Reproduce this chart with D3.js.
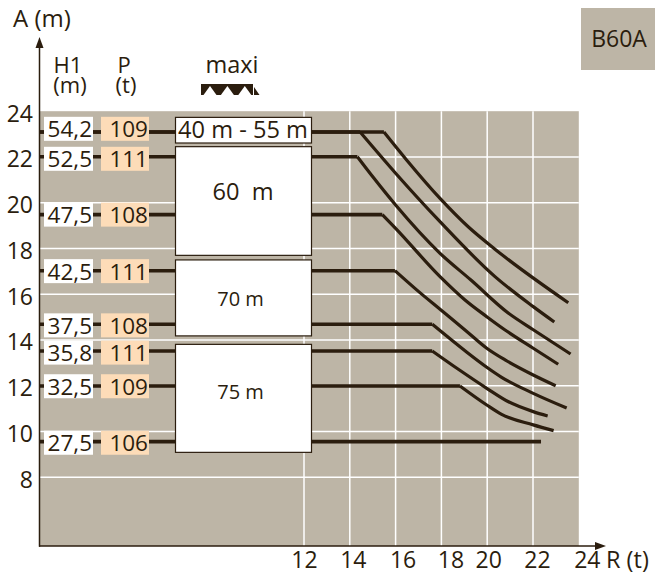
<!DOCTYPE html>
<html lang="en">
<head>
<meta charset="utf-8">
<script src="https://d3js.org/d3.v7.min.js"></script>
<style>
  body { margin: 0; background: #fff; }
  text { font-family: "Open Sans", sans-serif; fill: #2b1d0e; }
</style>
</head>
<body>
<div id="chart"></div>
<script>
// rows of the table on the left
const heights = ["54,2", "52,5", "47,5", "42,5", "37,5", "35,8", "32,5", "27,5"];
const loads = ["109", "111", "108", "111", "108", "111", "109", "106"];
const labelA = [23.23, 21.92, 19.48, 17.01, 14.64, 13.45, 11.98, 9.51];

// boom length blocks, in A (m)
const boomNames = ["40 m - 55 m", "60\u00a0 m", "70 m", "75 m"];
const boomTop = [23.73, 22.45, 17.5, 13.81];
const boomBottom = [22.61, 17.7, 14.18, 9.09];
const boomTextA = [22.83, 20.12, 15.5, 11.42];

// curves as [R, A], first point is the end of the flat part
const curve54a = [[15.49, 23.09], [16.48, 21.87], [17.94, 20.19], [19.17, 18.95], [20.34, 17.97], [23.54, 15.63]];
const curve54b = [[14.45, 23.09], [16.0, 21.29], [17.94, 19.17], [20.34, 16.77], [22.01, 15.46], [22.93, 14.79]];
const curve52 = [[14.33, 22.01], [15.03, 21.1], [16.0, 19.9], [17.94, 17.79], [19.29, 16.62], [20.93, 15.17], [22.01, 14.45], [23.64, 13.39]];
const curve47 = [[15.42, 19.48], [16.0, 18.88], [17.94, 16.77], [19.03, 15.75], [19.98, 15.02], [20.78, 14.44], [22.01, 13.64], [23.1, 12.94]];
const curve42 = [[15.97, 17.03], [16.92, 16.19], [17.98, 15.31], [19.03, 14.44], [19.98, 13.64], [20.78, 13.13], [22.01, 12.47], [22.99, 12.0]];
const curve37 = [[17.6, 14.69], [19.03, 13.53], [19.98, 12.81], [20.63, 12.37], [22.01, 11.67], [23.47, 11.03]];
const curve35 = [[17.6, 13.52], [18.74, 12.72], [19.98, 11.89], [20.93, 11.3], [22.01, 10.87], [22.64, 10.68]];
const curve32 = [[18.81, 11.99], [19.98, 11.16], [20.63, 10.75], [22.01, 10.29], [22.9, 10.04]];
const curve27 = [[22.35, 9.56]];
const curves = [curve54a, curve54b, curve52, curve47, curve42, curve37, curve35, curve32, curve27];

const xTicks = [12, 14, 16, 18, 20, 22, 24];
const yTicks = [24, 22, 20, 18, 16, 14, 12, 10, 8];
// the printed R labels are not centred on their grid lines
const xTickShift = [0, 3, 7, 9, 1, 4, 8];

const ink = "#2b1d0e";
const ground = "#bdb5a6";

const svg = d3.select("#chart").append("svg")
  .attr("width", 664)
  .attr("height", 575);

// scales (the plot runs from R about 0.47 to 24 and from A 5 to 24)
const x = d3.scaleLinear().domain([12, 24]).range([304, 578.8]);
const y = d3.scaleLinear().domain([8, 24]).range([477.3, 111.2]);
const rMin = x.invert(40);
const aMin = y.invert(546);

svg.append("rect")
  .attr("x", x(rMin)).attr("y", y(24))
  .attr("width", x(24) - x(rMin)).attr("height", y(aMin) - y(24))
  .attr("fill", ground);

// grid
svg.selectAll(".vgrid").data(xTicks.slice(0, -1)).enter().append("line")
  .attr("class", "vgrid")
  .attr("x1", d => x(d)).attr("x2", d => x(d))
  .attr("y1", y(24)).attr("y2", y(aMin))
  .attr("stroke", "#fff").attr("stroke-width", 1.5);
svg.selectAll(".hgrid").data(yTicks.slice(1)).enter().append("line")
  .attr("class", "hgrid")
  .attr("x1", x(rMin)).attr("x2", x(24))
  .attr("y1", d => y(d)).attr("y2", d => y(d))
  .attr("stroke", "#fff").attr("stroke-width", 1.5);

// flat parts run behind the table and the blocks
svg.selectAll(".flat").data(curves).enter().append("line")
  .attr("class", "flat")
  .attr("x1", x(rMin))
  .attr("x2", d => x(d[0][0]))
  .attr("y1", d => y(d[0][1]))
  .attr("y2", d => y(d[0][1]))
  .attr("stroke", ink).attr("stroke-width", 3.6);

const line = d3.line()
  .x(d => x(d[0]))
  .y(d => y(d[1]))
  .curve(d3.curveMonotoneX);

svg.selectAll(".curve").data(curves.filter(d => d.length > 1)).enter().append("path")
  .attr("class", "curve")
  .attr("d", line)
  .attr("fill", "none")
  .attr("stroke", ink).attr("stroke-width", 3.2);

// boom blocks
svg.selectAll(".boom").data(boomNames).enter().append("rect")
  .attr("class", "boom")
  .attr("x", 175.5).attr("width", 136)
  .attr("y", (d, i) => y(boomTop[i]))
  .attr("height", (d, i) => y(boomBottom[i]) - y(boomTop[i]))
  .attr("fill", "#fff")
  .attr("stroke", ink).attr("stroke-width", 1.2);

svg.selectAll(".boomText").data(boomNames).enter().append("text")
  .attr("class", "boomText")
  .attr("x", (d, i) => i < 2 ? 243 : 240.5)
  .attr("y", (d, i) => y(boomTextA[i]))
  .attr("text-anchor", "middle")
  .style("font-size", (d, i) => i < 2 ? "23.6px" : "20px")
  .text(d => d);

// table on the left
svg.selectAll(".hBox").data(heights).enter().append("rect")
  .attr("class", "hBox")
  .attr("x", 44).attr("width", 49).attr("height", 24)
  .attr("y", (d, i) => y(labelA[i]) - 12)
  .attr("fill", "#fff");
svg.selectAll(".pBox").data(loads).enter().append("rect")
  .attr("class", "pBox")
  .attr("x", 101).attr("width", 48).attr("height", 24)
  .attr("y", (d, i) => y(labelA[i]) - 12)
  .attr("fill", "#fddcb8");
svg.selectAll(".hText").data(heights).enter().append("text")
  .attr("class", "hText")
  .attr("x", 92).attr("y", (d, i) => y(labelA[i]) + 8.5)
  .attr("text-anchor", "end")
  .style("font-size", "22.5px")
  .text(d => d);
svg.selectAll(".pText").data(loads).enter().append("text")
  .attr("class", "pText")
  .attr("x", 148).attr("y", (d, i) => y(labelA[i]) + 8.5)
  .attr("text-anchor", "end")
  .style("font-size", "22.5px")
  .text(d => d);

// axes
const yAxis = svg.append("g")
  .attr("transform", "translate(33,0)")
  .call(d3.axisLeft(y).tickValues(yTicks).tickSize(0).tickPadding(0));
yAxis.select(".domain").remove();
yAxis.selectAll("text")
  .attr("dy", "0.43em")
  .style("font-family", '"Open Sans", sans-serif')
  .style("font-size", "23px")
  .attr("fill", ink);

const xAxis = svg.append("g")
  .attr("transform", "translate(0,568)")
  .call(d3.axisBottom(x).tickValues(xTicks).tickSize(0).tickPadding(0));
xAxis.select(".domain").remove();
xAxis.selectAll("text")
  .attr("dy", 0)
  .attr("dx", (d, i) => xTickShift[i])
  .style("font-family", '"Open Sans", sans-serif')
  .style("font-size", "23px")
  .attr("fill", ink);

svg.append("line")
  .attr("x1", 39.5).attr("x2", 39.5).attr("y1", 46).attr("y2", 546.7)
  .attr("stroke", ink).attr("stroke-width", 1.5);
svg.append("line")
  .attr("x1", 39).attr("x2", 597).attr("y1", 546).attr("y2", 546)
  .attr("stroke", ink).attr("stroke-width", 1.5);
svg.append("path").attr("d", "M39.5,37L43.5,48L35.5,48Z").attr("fill", ink);
svg.append("path").attr("d", "M606,546L595,542L595,550Z").attr("fill", ink);

// header texts
function label(txt, px, py, anchor, size) {
  svg.append("text")
    .attr("x", px).attr("y", py)
    .attr("text-anchor", anchor || "middle")
    .style("font-size", (size || 22) + "px")
    .text(txt);
}
label("A (m)", 13, 27, "start", 24);
label("H1", 68, 72.5);
label("(m)", 70, 93);
label("P", 124, 72.5);
label("(t)", 126, 93);
label("maxi", 232, 72.5, "middle", 23.5);
label("R (t)", 606, 568, "start", 23.5);

// maxi jib symbol
svg.append("rect")
  .attr("x", 201).attr("y", 84).attr("width", 52).attr("height", 11)
  .attr("fill", ink);
svg.selectAll(".jib").data(d3.range(3)).enter().append("path")
  .attr("class", "jib")
  .attr("d", d => {
    const c = 210 + d * 17.4;
    return "M" + c + ",86L" + (c + 6.5) + ",95L" + (c - 6.5) + ",95Z";
  })
  .attr("fill", "#fff");
svg.append("path").attr("d", "M254,87L259.5,95L254,95Z").attr("fill", ink);

// model tag
svg.append("rect")
  .attr("x", 581).attr("y", 8).attr("width", 74).attr("height", 62)
  .attr("fill", ground);
label("B60A", 619, 46.5, "middle", 23);
</script>
</body>
</html>
